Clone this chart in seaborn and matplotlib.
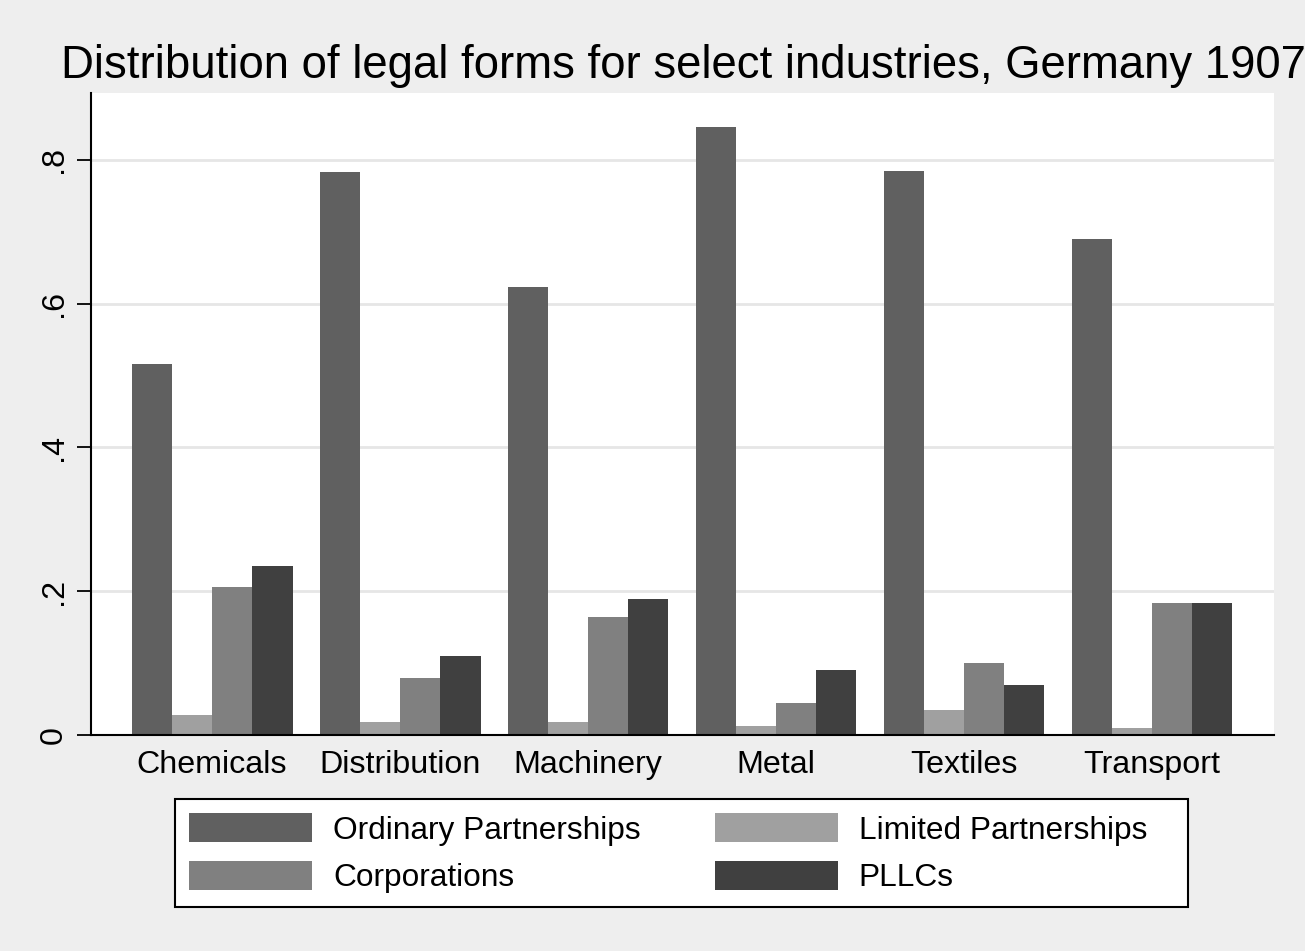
import matplotlib
matplotlib.use("Agg")
import matplotlib.pyplot as plt
from matplotlib.patches import Rectangle
import seaborn as sns
import pandas as pd

industries = ["Chemicals", "Distribution", "Machinery", "Metal", "Textiles", "Transport"]
ordinary = [0.516, 0.783, 0.623, 0.846, 0.785, 0.690]
limited = [0.028, 0.018, 0.018, 0.013, 0.035, 0.010]
corporations = [0.206, 0.079, 0.164, 0.045, 0.100, 0.184]
pllcs = [0.235, 0.110, 0.189, 0.090, 0.070, 0.184]

forms = ["Ordinary Partnerships", "Limited Partnerships", "Corporations", "PLLCs"]
colors = ["#606060", "#a0a0a0", "#808080", "#404040"]
yticks = [0, 0.2, 0.4, 0.6, 0.8]
ytick_labels = ["0", ".2", ".4", ".6", ".8"]

rows = []
for form, vals in zip(forms, [ordinary, limited, corporations, pllcs]):
    for ind, v in zip(industries, vals):
        rows.append({"industry": ind, "form": form, "share": v})
df = pd.DataFrame(rows)

sns.set_style("white")
plt.rcParams["font.family"] = ["Liberation Sans", "DejaVu Sans"]
plt.rcParams["text.color"] = "black"
plt.rcParams["xtick.color"] = "black"
plt.rcParams["ytick.color"] = "black"

W, H = 1305, 951
fig = plt.figure(figsize=(W / 100, H / 100), dpi=100)
fig.patch.set_facecolor("#eeeeee")
ax = fig.add_axes([91 / W, 1 - 735 / H, (1274 - 91) / W, (735 - 93) / H])
ax.set_facecolor("white")

sns.barplot(data=df, x="industry", y="share", hue="form", hue_order=forms,
            order=industries, palette=colors, width=0.856, gap=0, saturation=1,
            linewidth=0, ax=ax, legend=False)

ax.set_xlim(-0.644, 5.649)
ax.set_ylim(0, 0.893)
ax.set_yticks(yticks)
ax.set_yticklabels(ytick_labels, rotation=90, va="center", fontsize=23.2)
ax.tick_params(axis="y", length=10, width=1.3, color="black", pad=6, left=True)
ax.tick_params(axis="x", length=0, pad=11, labelsize=23.2)
ax.yaxis.grid(True, color="#e6e6e6", linewidth=2)
ax.set_axisbelow(True)
ax.set_xlabel("")
ax.set_ylabel("")
for side in ["top", "right"]:
    ax.spines[side].set_visible(False)
for side in ["left", "bottom"]:
    ax.spines[side].set_color("black")
    ax.spines[side].set_linewidth(1.5)

fig.text(683 / W, 1 - 78 / H,
         "Distribution of legal forms for select industries, Germany 1907",
         ha="center", va="baseline", fontsize=32.8)

# legend box spanning the plot width, drawn behind the legend entries
fig.add_artist(Rectangle((175 / W, 1 - 907 / H), (1188 - 175) / W, (907 - 799) / H,
                         transform=fig.transFigure, facecolor="white",
                         edgecolor="black", linewidth=1.5, zorder=4))

# legend ordered so rows read: Ordinary | Limited, Corporations | PLLCs
handles = [Rectangle((0, 0), 1, 1, facecolor=c, edgecolor="none") for c in colors]
order = [0, 2, 1, 3]
leg = fig.legend([handles[i] for i in order], [forms[i] for i in order],
                 ncol=2, loc="upper left",
                 bbox_to_anchor=(175 / W, 1 - 799 / H),
                 fontsize=22.8, frameon=False,
                 handlelength=3.88, handleheight=1.04, handletextpad=0.66,
                 columnspacing=2.34, labelspacing=0.47, borderpad=0.45,
                 borderaxespad=0)
leg.set_zorder(5)

fig.savefig("out.png", dpi=100, facecolor=fig.get_facecolor())
